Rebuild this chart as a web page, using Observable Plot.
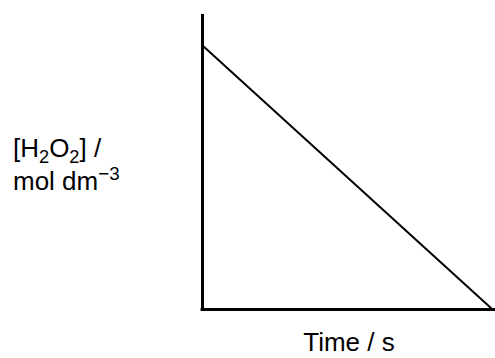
<!DOCTYPE html>
<html>
<head>
<meta charset="utf-8">
<script src="https://cdn.jsdelivr.net/npm/d3@7"></script>
<script src="https://cdn.jsdelivr.net/npm/@observablehq/plot@0.6"></script>
<style>
  html, body { margin: 0; padding: 0; background: #fff; }
  #chart { position: relative; width: 495px; height: 358px; }
</style>
</head>
<body>
<div id="chart"></div>
<script>
// Data: concentration of H2O2 falling linearly with time (schematic)
const times = [0, 10];
const concentrations = [0.895, 0];
const xDomain = [0, 10.1];
const yDomain = [0, 1];
const xLabel = "Time / s";

const data = times.map((t, i) => ({t, c: concentrations[i]}));

const plot = Plot.plot({
  width: 495,
  height: 358,
  marginLeft: 202,
  marginRight: 0,
  marginTop: 14,
  marginBottom: 49,
  x: {domain: xDomain, axis: null},
  y: {domain: yDomain, axis: null},
  style: {background: "#fff", fontFamily: "Liberation Sans, Arial, sans-serif"},
  marks: [
    Plot.line(data, {x: "t", y: "c", stroke: "#000", strokeWidth: 2}),
    Plot.ruleX([0], {stroke: "#000", strokeWidth: 3}),
    Plot.ruleY([0], {stroke: "#000", strokeWidth: 3, x1: -0.05, x2: xDomain[1]})
  ]
});

document.getElementById("chart").appendChild(plot);

const svg = d3.select(plot);
const fs = 26;
const g = svg.append("g")
  .attr("font-family", "Liberation Sans, Arial, sans-serif")
  .attr("text-anchor", "start")
  .attr("fill", "#000");

// y label line 1: [H2O2] /
const t1 = g.append("text").attr("x", 13).attr("y", 157).attr("font-size", fs);
t1.append("tspan").text("[H");
t1.append("tspan").attr("font-size", fs * 0.7).attr("dy", 6).text("2");
t1.append("tspan").attr("dy", -6).text("O");
t1.append("tspan").attr("font-size", fs * 0.7).attr("dy", 6).text("2");
t1.append("tspan").attr("dy", -6).text("] /");

// y label line 2: mol dm−3
const t2 = g.append("text").attr("x", 13).attr("y", 190).attr("font-size", fs);
t2.append("tspan").text("mol dm");
t2.append("tspan").attr("font-size", fs * 0.72).attr("dy", -10).text("\u22123");

// x label
g.append("text")
  .attr("x", 349).attr("y", 351)
  .attr("text-anchor", "middle")
  .attr("font-size", 26)
  .text(xLabel);
</script>
</body>
</html>
